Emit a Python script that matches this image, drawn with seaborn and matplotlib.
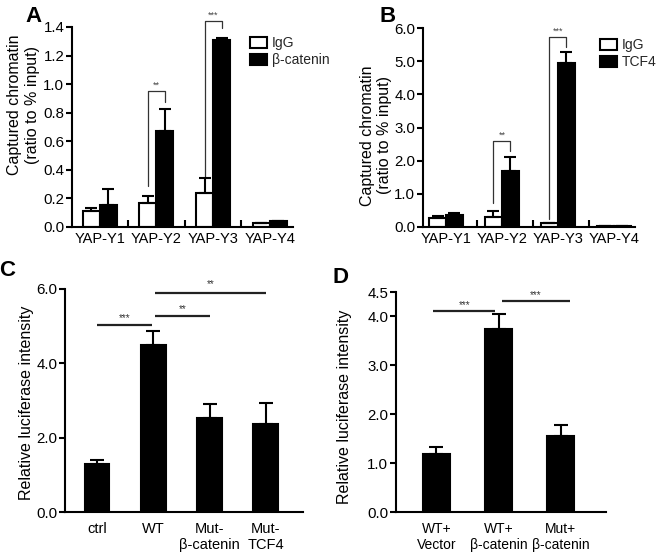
import numpy as np
import pandas as pd
import matplotlib
matplotlib.use("Agg")
import matplotlib.pyplot as plt
from matplotlib.patches import Patch
import seaborn as sns

sns.set_style("ticks")
plt.rcParams["font.family"] = ["Liberation Sans", "DejaVu Sans"]

# ---------------- data ----------------
regions = ["YAP-Y1", "YAP-Y2", "YAP-Y3", "YAP-Y4"]

a_igg = [0.115, 0.165, 0.235, 0.025]
a_igg_err = [0.02, 0.055, 0.105, 0.005]
a_bcat = [0.155, 0.675, 1.31, 0.04]
a_bcat_err = [0.11, 0.15, 0.015, 0.005]

b_igg = [0.27, 0.30, 0.12, 0.03]
b_igg_err = [0.05, 0.19, 0.01, 0.0]
b_tcf4 = [0.35, 1.68, 4.93, 0.02]
b_tcf4_err = [0.08, 0.42, 0.35, 0.0]

c_labels = ["ctrl", "WT", "Mut-\nβ-catenin", "Mut-\nTCF4"]
c_vals = [1.30, 4.50, 2.52, 2.38]
c_err = [0.09, 0.38, 0.38, 0.56]

d_labels = ["WT+\nVector", "WT+\nβ-catenin", "Mut+\nβ-catenin"]
d_vals = [1.19, 3.74, 1.55]
d_err = [0.14, 0.30, 0.23]

W, H = 666, 558
fig = plt.figure(figsize=(W / 100, H / 100), dpi=100)


def ax_at(l, r, t, b):
    return fig.add_axes([l / W, 1 - b / H, (r - l) / W, (b - t) / H])


YTICK_FS = 10.8
XTICK_FS = 10.5
LAB_FS = 11.5
LW = 1.5


def style(ax, xfs=XTICK_FS):
    sns.despine(ax=ax)
    for s in ["left", "bottom"]:
        ax.spines[s].set_linewidth(LW)
        ax.spines[s].set_color("black")
    ax.tick_params(axis="y", length=4, width=LW, pad=1.5, labelsize=YTICK_FS, colors="black")
    ax.tick_params(axis="x", length=0, labelsize=xfs, colors="black")
    ax.set_xlabel("")
    ax.set_ylabel("")


def grouped(ax, a, aerr, bvals, berr, name2, bracket_specs, ylim, yticks, fmt, xlim, sep_ticks, leg_xy, ylab_xy):
    df = pd.DataFrame({
        "region": regions * 2,
        "type": ["IgG"] * 4 + [name2] * 4,
        "value": a + bvals,
    })
    sns.barplot(data=df, x="region", y="value", hue="type",
                palette={"IgG": "white", name2: "black"}, saturation=1,
                edgecolor="black", linewidth=LW, width=0.6, errorbar=None,
                legend=False, ax=ax)
    x = np.arange(4)
    ax.errorbar(x - 0.15, a, yerr=[np.zeros(4), aerr], fmt="none", ecolor="black",
                elinewidth=LW, capsize=4, capthick=LW, zorder=5)
    ax.errorbar(x + 0.15, bvals, yerr=[np.zeros(4), berr], fmt="none", ecolor="black",
                elinewidth=LW, capsize=4, capthick=LW, zorder=5)
    ax.set_ylim(*ylim)
    ax.set_yticks(yticks)
    ax.set_yticklabels([fmt.format(v) for v in yticks])
    ax.set_xlim(*xlim)
    ax.vlines(sep_ticks, 0, 0.035, transform=ax.get_xaxis_transform(),
              colors="black", linewidth=LW, clip_on=False)
    style(ax)
    ax.tick_params(axis="x", pad=3.5)
    for (i, yl, ytop, yr, stars) in bracket_specs:
        ax.plot([i - 0.15, i - 0.15, i + 0.15, i + 0.15], [yl, ytop, ytop, yr],
                color="#333333", linewidth=0.9, clip_on=False)
        ax.text(i, ytop + (ylim[1] * 0.008), stars, ha="center", va="bottom",
                fontsize=6.5, color="#444444")
    handles = [Patch(facecolor="white", edgecolor="black", linewidth=LW),
               Patch(facecolor="black", edgecolor="black", linewidth=LW)]
    ax.legend(handles, ["IgG", name2], loc="upper left", bbox_to_anchor=leg_xy,
              frameon=False, fontsize=10, handlelength=1.2, handleheight=0.85,
              handletextpad=0.4, labelspacing=0.25, borderpad=0, borderaxespad=0)
    ax.text(ylab_xy[0], ylab_xy[1], "Captured chromatin\n(ratio to % input)",
            transform=ax.transAxes, rotation=90, ha="center", va="center",
            multialignment="center", fontsize=LAB_FS, color="black")


# ---------------- Panel A ----------------
axA = ax_at(72, 293, 27, 227)
grouped(axA, a_igg, a_igg_err, a_bcat, a_bcat_err, "β-catenin",
        [(1, 0.29, 0.95, 0.875, "**"), (2, 0.35, 1.44, 1.39, "***")],
        (0, 1.4), [0, 0.2, 0.4, 0.6, 0.8, 1.0, 1.2, 1.4], "{:.1f}",
        (-0.49, 3.41), [0.5, 1.5, 2.5], (0.805, 0.955), (-0.22, 0.61))

# ---------------- Panel B ----------------
axB = ax_at(423, 635, 28, 227)
grouped(axB, b_igg, b_igg_err, b_tcf4, b_tcf4_err, "TCF4",
        [(1, 0.72, 2.58, 2.29, "**"), (2, 0.25, 5.72, 5.43, "***")],
        (0, 6.0), [0, 1, 2, 3, 4, 5, 6], "{:.1f}",
        (-0.41, 3.38), [0.56, 1.56, 2.56], (0.835, 0.95), (-0.222, 0.46))


# ---------------- Panels C, D ----------------
def simple(ax, labels, vals, err, ylim, yticks, xlim, width, lines, ylab_xy, xfs):
    df = pd.DataFrame({"cond": labels, "value": vals})
    sns.barplot(data=df, x="cond", y="value", color="black", saturation=1,
                width=width, errorbar=None, ax=ax, edgecolor="black", linewidth=LW)
    x = np.arange(len(vals))
    ax.errorbar(x, vals, yerr=[np.zeros(len(vals)), err], fmt="none", ecolor="black",
                elinewidth=LW, capsize=5, capthick=LW, zorder=5)
    ax.set_ylim(*ylim)
    ax.set_yticks(yticks)
    ax.set_yticklabels(["{:.1f}".format(v) for v in yticks])
    ax.set_xlim(*xlim)
    style(ax, xfs)
    ax.tick_params(axis="x", pad=7)
    for lab in ax.get_xticklabels():
        lab.set_linespacing(1.25)
        lab.set_verticalalignment("top")
    for (x0, x1, y, ty, stars) in lines:
        ax.plot([x0, x1], [y, y], color="#222222", linewidth=1.6, clip_on=False,
                solid_capstyle="butt")
        ax.text((x0 + x1) / 2, ty, stars, ha="center", va="center",
                fontsize=7, color="#333333")
    ax.text(ylab_xy[0], ylab_xy[1], "Relative luciferase intensity",
            transform=ax.transAxes, rotation=90, ha="center", va="center",
            fontsize=LAB_FS, color="black")


axC = ax_at(65, 303, 289, 512)
simple(axC, c_labels, c_vals, c_err, (0, 6.0), [0, 2, 4, 6], (-0.57, 3.66), 0.44,
       [(0.0, 0.97, 5.04, 5.22, "***"), (1.03, 2.0, 5.28, 5.45, "**"),
        (1.03, 3.0, 5.89, 6.12, "**")],
       (-0.16, 0.49), 10.5)

axD = ax_at(396, 606, 292, 512)
simple(axD, d_labels, d_vals, d_err, (0, 4.5), [0, 1, 2, 3, 4, 4.5], (-0.65, 2.73), 0.43,
       [(-0.05, 0.95, 4.11, 4.24, "***"), (1.05, 2.15, 4.31, 4.44, "***")],
       (-0.243, 0.477), 10.0)

# panel letters
for lt, (px, py) in {"A": (33, 16), "B": (388, 17), "C": (7, 270), "D": (340, 278)}.items():
    fig.text(px / W, 1 - py / H, lt, fontsize=16, fontweight="bold",
             ha="center", va="center", color="black")

fig.savefig("out.png", dpi=100, facecolor="white")
